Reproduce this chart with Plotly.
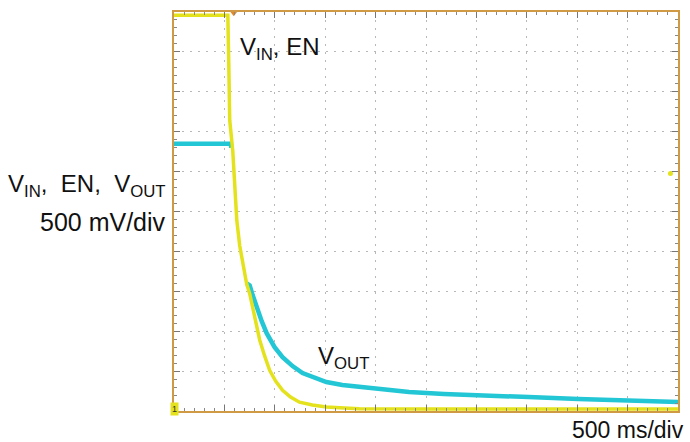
import plotly.graph_objects as go

# ---- data (time in ms, voltage in V) ----
vin_t = [0, 534, 543, 553, 583, 603, 623, 652, 682, 721, 751, 800, 850, 899, 949, 1008,
         1077, 1156, 1245, 1373, 1512, 1690, 1838, 2500, 5000]
vin_v = [4.96, 4.96, 4.39, 3.64, 3.26, 2.76, 2.39, 2.07, 1.84, 1.59, 1.47, 1.16, 0.89, 0.69,
         0.51, 0.375, 0.26, 0.175, 0.11, 0.075, 0.05, 0.037, 0.028, 0.025, 0.025]

# VOUT: flat level, fast drop not visible (gap), then decay
vout_t = [0, 563, 568, None, 721, 751, 781, 820, 870, 919, 998, 1077, 1176, 1275, 1393, 1512,
          1670, 1838, 2085, 2332, 2678, 3024, 3518, 4012, 4506, 5000]
vout_v = [3.35, 3.35, 3.30, None, 1.60, 1.575, 1.45, 1.30, 1.125, 0.975, 0.80, 0.675, 0.5625,
          0.475, 0.4125, 0.3625, 0.325, 0.30, 0.2625, 0.2375, 0.2125, 0.20, 0.175, 0.15, 0.125, 0.1125]

trigger_time = [593]
trigger_top = [4.99]
trig_level_t = [4925]
trig_level_v = [2.975]

x_range = [0, 5000]
y_range = [0, 5]

YELLOW = "#e4e21c"
CYAN = "#22c6d4"
FRAME = "#d09a44"
FONT = "Arial, Liberation Sans, sans-serif"

fig = go.Figure()
fig.add_trace(go.Scatter(x=vout_t, y=vout_v, mode="lines", connectgaps=False,
                         line=dict(color=CYAN, width=4.5), hoverinfo="skip"))
fig.add_trace(go.Scatter(x=vin_t, y=vin_v, mode="lines",
                         line=dict(color=YELLOW, width=3.5), hoverinfo="skip"))
fig.add_trace(go.Scatter(x=trigger_time, y=trigger_top, mode="markers",
                         marker=dict(symbol="triangle-down", size=7, color="#e08a2a"),
                         cliponaxis=False, hoverinfo="skip"))
fig.add_trace(go.Scatter(x=trig_level_t, y=trig_level_v, mode="markers",
                         marker=dict(symbol="circle", size=5, color=YELLOW),
                         cliponaxis=False, hoverinfo="skip"))

axis_common = dict(
    showticklabels=False, showline=True, linecolor=FRAME, linewidth=2,
    mirror="ticks", ticks="inside", ticklen=6, tickcolor="#777777", tickwidth=1,
    showgrid=True, gridcolor="#b8b8b8", gridwidth=1, griddash="2px,6px",
    zeroline=False, fixedrange=True,
)
fig.update_xaxes(range=x_range, dtick=500, tick0=0,
                 minor=dict(ticks="inside", ticklen=3, dtick=100, tickcolor="#888888", showgrid=False),
                 **axis_common)
fig.update_yaxes(range=y_range, dtick=0.5, tick0=0,
                 minor=dict(ticks="inside", ticklen=3, dtick=0.1, tickcolor="#888888", showgrid=False),
                 **axis_common)

ann = []
ann.append(dict(x=632, y=4.54, xref="x", yref="y", xanchor="left", yanchor="middle",
                text="V<sub>IN</sub>, EN", showarrow=False, font=dict(size=24, color="#111111", family=FONT)))
ann.append(dict(x=1413, y=0.675, xref="x", yref="y", xanchor="left", yanchor="middle",
                text="V<sub>OUT</sub>", showarrow=False, font=dict(size=24, color="#111111", family=FONT)))
ann.append(dict(x=-0.012, y=0.565, xref="paper", yref="paper", xanchor="right", yanchor="middle",
                text="V<sub>IN</sub>,  EN,  V<sub>OUT</sub>", showarrow=False,
                font=dict(size=24, color="#111111", family=FONT)))
ann.append(dict(x=-0.012, y=0.4725, xref="paper", yref="paper", xanchor="right", yanchor="middle",
                text="500 mV/div", showarrow=False, font=dict(size=25, color="#111111", family=FONT)))
ann.append(dict(x=1.0158, y=-0.047, xref="paper", yref="paper", xanchor="right", yanchor="middle",
                text="500 ms/div", showarrow=False, font=dict(size=23, color="#111111", family=FONT)))
ann.append(dict(x=0, y=0.025, xref="x", yref="y", xanchor="center", yanchor="middle",
                text="1", showarrow=False, bgcolor=YELLOW, borderpad=1,
                font=dict(size=9, color="#333333", family=FONT)))
fig.update_layout(annotations=ann)

fig.update_layout(
    width=690, height=442,
    margin=dict(l=174, r=10, t=11, b=31),
    paper_bgcolor="white", plot_bgcolor="white",
    showlegend=False,
)

fig.write_html("out.html")
